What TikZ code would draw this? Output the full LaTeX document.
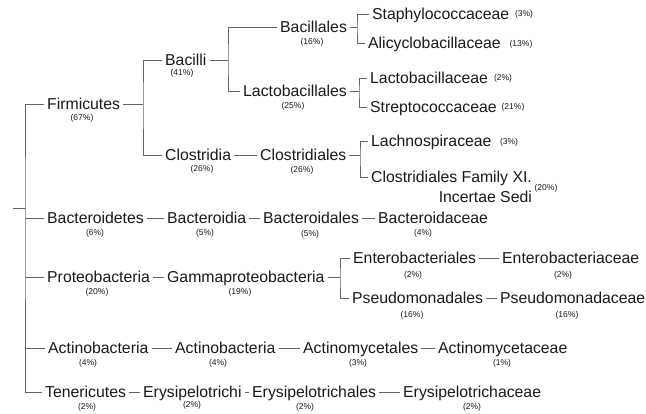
\documentclass[tikz,border=0pt]{standalone}
\usepackage{fontspec}
\setmainfont{Liberation Sans}
\usepackage{xcolor}
\usepackage{tikz}
\definecolor{linegray}{RGB}{100,100,100}
\definecolor{textdark}{RGB}{25,25,25}

\begin{document}
\begin{tikzpicture}[x=1pt, y=-1pt,
    taxon/.style={anchor=west, inner sep=3pt, text height=11.3pt, text depth=0pt,
                  font=\fontsize{15.8}{18}\selectfont, text=textdark},
    pct/.style={inner sep=0pt, font=\fontsize{8.5}{10}\selectfont, text=textdark},
    branch/.style={draw=linegray, line width=0.8pt}
]
    \useasboundingbox (0,0) rectangle (646,413);

    % Firmicutes
    \node[taxon] (firm) at (44,104) {Firmicutes};
    \node[pct] (pfirm) at (82,118) {(67\%)};
    \node[taxon] (bacilli) at (162,60) {Bacilli};
    \node[pct] (pbacilli) at (182,73) {(41\%)};
    \node[taxon] (bacillales) at (277,27) {Bacillales};
    \node[pct] (pbacillales) at (312,42) {(16\%)};
    \node[taxon] (lactobl) at (240,91) {Lactobacillales};
    \node[pct] (plactobl) at (293,106) {(25\%)};
    \node[taxon] (clostridia) at (162,155) {Clostridia};
    \node[pct] (pclostridia) at (202,169) {(26\%)};
    \node[taxon] (clostridiales) at (257,155) {Clostridiales};
    \node[pct] (pclostridiales) at (302,170) {(26\%)};

    % Firmicutes families
    \node[taxon] (staph) at (369,14) {Staphylococcaceae};
    \node[pct] (pstaph) at (524,14) {(3\%)};
    \node[taxon] (alicy) at (365,43) {Alicyclobacillaceae};
    \node[pct] (palicy) at (521,44) {(13\%)};
    \node[taxon] (lactoc) at (367,78) {Lactobacillaceae};
    \node[pct] (plactoc) at (503,78) {(2\%)};
    \node[taxon] (strep) at (367,107) {Streptococcaceae};
    \node[pct] (pstrep) at (513,107) {(21\%)};
    \node[taxon] (lachno) at (368,141) {Lachnospiraceae};
    \node[pct] (plachno) at (509,142) {(3\%)};
    \node[taxon] (famxi) at (368,177) {Clostridiales Family XI.};
    \node[taxon, anchor=east] (famxib) at ([yshift=-20pt]famxi.east) {Incertae Sedi};
    \node[pct] (pfamxi) at (546,188) {(20\%)};

    % Bacteroidetes
    \node[taxon] (bacteroidetes) at (44,218) {Bacteroidetes};
    \node[pct] (pbacteroidetes) at (95,233) {(6\%)};
    \node[taxon] (bacteroidia) at (164,218) {Bacteroidia};
    \node[pct] (pbacteroidia) at (205,233) {(5\%)};
    \node[taxon] (bacteroidales) at (260,218) {Bacteroidales};
    \node[pct] (pbacteroidales) at (310,234) {(5\%)};
    \node[taxon] (bacteroidaceae) at (375,218) {Bacteroidaceae};
    \node[pct] (pbacteroidaceae) at (423,233) {(4\%)};

    % Proteobacteria
    \node[taxon] (proteo) at (44,277) {Proteobacteria};
    \node[pct] (pproteo) at (97,292) {(20\%)};
    \node[taxon] (gamma) at (164,277) {Gammaproteobacteria};
    \node[pct] (pgamma) at (240,292) {(19\%)};
    \node[taxon] (enterobl) at (350,258) {Enterobacteriales};
    \node[pct] (penterobl) at (413,275) {(2\%)};
    \node[taxon] (enterobc) at (499,258) {Enterobacteriaceae};
    \node[pct] (penterobc) at (563,275) {(2\%)};
    \node[taxon] (pseudol) at (349,298) {Pseudomonadales};
    \node[pct] (ppseudol) at (412,315) {(16\%)};
    \node[taxon] (pseudoc) at (497,298) {Pseudomonadaceae};
    \node[pct] (ppseudoc) at (567,315) {(16\%)};

    % Actinobacteria
    \node[taxon] (actinop) at (45,348) {Actinobacteria};
    \node[pct] (pactinop) at (88,363) {(4\%)};
    \node[taxon] (actinoc) at (172,348) {Actinobacteria};
    \node[pct] (pactinoc) at (218,363) {(4\%)};
    \node[taxon] (actinol) at (300,348) {Actinomycetales};
    \node[pct] (pactinol) at (358,363) {(3\%)};
    \node[taxon] (actinof) at (435,348) {Actinomycetaceae};
    \node[pct] (pactinof) at (502,363) {(1\%)};

    % Tenericutes
    \node[taxon] (teneri) at (42,392) {Tenericutes};
    \node[pct] (pteneri) at (87,407) {(2\%)};
    \node[taxon] (erysc) at (140,392) {Erysipelotrichi};
    \node[pct] (perysc) at (192,405) {(2\%)};
    \node[taxon] (erysl) at (249,392) {Erysipelotrichales};
    \node[pct] (perysl) at (305,407) {(2\%)};
    \node[taxon] (erysf) at (400,392) {Erysipelotrichaceae};
    \node[pct] (perysf) at (472,407) {(2\%)};

    % Junctions
    \coordinate (rootin) at (13,208);
    \coordinate (root) at (25,208);
    \coordinate (jfirm) at (143,104);
    \coordinate (jbacilli) at (228,60);
    \coordinate (jbacillales) at (357,27);
    \coordinate (jlactobl) at (359,91);
    \coordinate (jclostridiales) at (360,155);
    \coordinate (jgamma) at (340,277);

    % Tree
    \draw[branch] (rootin) -- (root);
    \draw[branch] (firm.west) -| (root) |- (teneri.west);
    \draw[branch] (bacteroidetes.west -| root) -- (bacteroidetes.west);
    \draw[branch] (proteo.west -| root) -- (proteo.west);
    \draw[branch] (actinop.west -| root) -- (actinop.west);

    \draw[branch] (firm.east) -- (jfirm);
    \draw[branch] (bacilli.west) -| (jfirm) |- (clostridia.west);
    \draw[branch] (bacilli.east) -- (jbacilli);
    \draw[branch] (bacillales.west) -| (jbacilli) |- (lactobl.west);
    \draw[branch] (bacillales.east) -- (jbacillales);
    \draw[branch] (staph.west) -| (jbacillales) |- (alicy.west);
    \draw[branch] (lactobl.east) -- (jlactobl);
    \draw[branch] (lactoc.west) -| (jlactobl) |- (strep.west);
    \draw[branch] (clostridia.east) -- (clostridiales.west);
    \draw[branch] (clostridiales.east) -- (jclostridiales);
    \draw[branch] (lachno.west) -| (jclostridiales) |- (famxi.west);

    \draw[branch] (bacteroidetes.east) -- (bacteroidia.west);
    \draw[branch] (bacteroidia.east) -- (bacteroidales.west);
    \draw[branch] (bacteroidales.east) -- (bacteroidaceae.west);

    \draw[branch] (proteo.east) -- (gamma.west);
    \draw[branch] (gamma.east) -- (jgamma);
    \draw[branch] (enterobl.west) -| (jgamma) |- (pseudol.west);
    \draw[branch] (enterobl.east) -- (enterobc.west);
    \draw[branch] (pseudol.east) -- (pseudoc.west);

    \draw[branch] (actinop.east) -- (actinoc.west);
    \draw[branch] (actinoc.east) -- (actinol.west);
    \draw[branch] (actinol.east) -- (actinof.west);

    \draw[branch] (teneri.east) -- (erysc.west);
    \draw[branch] (erysc.east) -- (erysl.west);
    \draw[branch] (erysl.east) -- (erysf.west);
\end{tikzpicture}
\end{document}
